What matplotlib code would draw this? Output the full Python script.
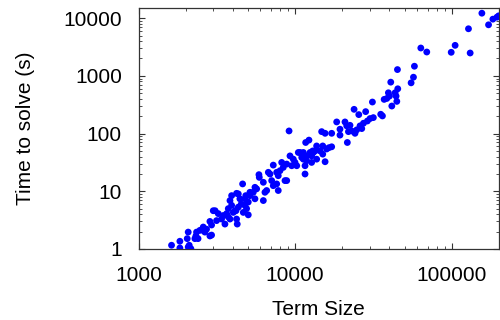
import matplotlib
matplotlib.use("Agg")
import matplotlib.pyplot as plt
from matplotlib.ticker import LogLocator, FixedLocator, NullFormatter

# term size vs. time to solve
term_size = [
    155500, 171500, 182800, 194000, 199000, 127700, 99080, 104950, 130900,
    63380, 69180, 44960, 57700, 56890, 54960, 40750, 39360, 38450, 36980,
    41390, 44060, 44540, 43450, 39990, 45170, 31120, 35160, 36060, 23770,
    25470, 28180, 30060, 31550, 28900, 27290, 25940, 24720, 24100, 26610,
    18408, 20797, 22387, 21330, 19320, 19320, 21880, 22960, 21528, 14757,
    15524, 17100, 16443, 14997, 15886, 17100, 14414, 14997, 15524, 12246,
    11668, 13709, 12942, 12445, 10471, 11272, 11830, 11015, 11272, 11830,
    12735, 11561, 11561, 9141, 9268, 9729, 9977, 10233, 9506, 8830, 8395,
    8202, 7248, 6741, 7621, 7799, 8830, 7621, 7248, 7799, 5871, 5902, 6414,
    6577, 6263, 5675, 5404, 5144, 5537, 4619, 4227, 3930, 3836, 4438, 4777,
    5019, 4777, 4897, 5019, 4665, 4335, 4188, 3930, 4027, 3742, 3652, 3475,
    3229, 3000, 3390, 3836, 4227, 4268, 3562, 3150, 2856, 2927, 2718, 2590,
    2653, 2856, 2464, 2347, 2325, 2291, 2076, 2046, 2107, 1837, 1625, 1837,
    2160, 2076, 4335, 4837, 4527, 4130, 3084, 3742, 2927, 2399, 2590, 10740,
    8000, 6905, 6263, 7080, 8610, 5537, 5144, 13060, 13709, 13390, 12735,
]
solve_time = [
    12190, 7670, 9610, 10400, 10970, 6550, 2560, 3380, 2490,
    3040, 2590, 1285, 1469, 948, 757, 778, 509, 406, 391,
    300, 446, 361, 509, 446, 597, 352, 216, 202, 263,
    213, 240, 182, 189, 165, 151, 136, 116, 101, 122,
    159, 159, 139, 136, 119, 94, 108, 111, 70, 108,
    101, 101, 57, 61, 54, 59, 50, 44, 32.5, 77,
    70, 61, 50, 47, 47, 47, 41, 38.5, 36, 33.8,
    31.6, 27.7, 19.9, 111, 41, 36, 31.6, 27.7, 27.7, 29.6, 25.9,
    31.6, 28.4, 21.3, 21.3, 18.6, 15.3, 13.4, 12.5, 10.3, 19.4, 17.4, 9.6,
    10.3, 6.9, 11.0, 9.6, 8.4, 7.4, 13.4, 9.2, 8.4, 6.9, 7.4, 7.4,
    6.5, 5.7, 5.0, 3.9, 4.3, 5.3, 4.6, 5.7, 4.3, 5.0, 4.1, 3.8,
    4.1, 4.6, 3.3, 3.3, 3.3, 2.7, 2.7, 3.1, 3.0, 2.6, 2.2, 2.4,
    1.96, 1.68, 2.1, 1.96, 1.68, 1.51, 1.96, 1.51, 1.16, 1.36, 1.16, 1.04,
    1.01, 1.08, 9.0, 8.4, 6.0, 4.6, 4.6, 3.6, 1.74, 1.51, 2.1, 47,
    22.7, 19.9, 14.3, 15.3, 15.3, 11.7, 9.6, 47, 36, 50, 41,
]
x_ticks = [1000, 10000, 100000]
y_ticks = [1, 10, 100, 1000, 10000]

plt.rcParams["font.family"] = ["Liberation Sans", "DejaVu Sans"]

fig = plt.figure(figsize=(5, 3.2), dpi=100)
ax = fig.add_axes([0.277, 0.222, 0.721, 0.753])

ax.scatter(term_size, solve_time, s=24, color="#0000ff", edgecolors="none", zorder=3)

ax.set_xscale("log")
ax.set_yscale("log")
ax.set_xlim(1000, 200000)
ax.set_ylim(1, 15000)

ax.xaxis.set_major_locator(FixedLocator(x_ticks))
ax.yaxis.set_major_locator(FixedLocator(y_ticks))
ax.set_xticklabels([str(t) for t in x_ticks])
ax.set_yticklabels([str(t) for t in y_ticks])
ax.xaxis.set_minor_locator(LogLocator(base=10, subs=range(2, 10)))
ax.yaxis.set_minor_locator(LogLocator(base=10, subs=range(2, 10)))
ax.xaxis.set_minor_formatter(NullFormatter())
ax.yaxis.set_minor_formatter(NullFormatter())

ax.tick_params(which="both", direction="in", top=True, right=True,
               labelsize=15, colors="#333333", labelcolor="black")
ax.tick_params(which="major", length=4, width=0.8, pad=12)
ax.tick_params(which="minor", length=2, width=0.6)
for s in ax.spines.values():
    s.set_linewidth(0.9)
    s.set_color("#333333")

ax.set_xlabel("Term Size", fontsize=15, labelpad=11)
ax.set_ylabel("Time to solve (s)", fontsize=15, labelpad=20)

fig.savefig("out.png", dpi=100)
